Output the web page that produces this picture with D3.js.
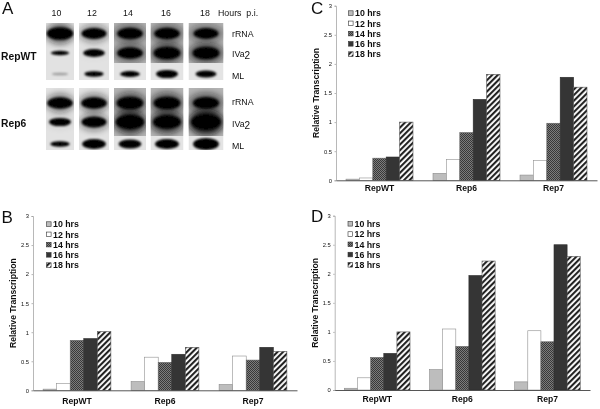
<!DOCTYPE html>
<html><head><meta charset="utf-8">
<script src="https://cdn.jsdelivr.net/npm/d3@7"></script>
<style>
html,body{margin:0;padding:0;background:#fff}
svg{display:block}
text{font-family:"Liberation Sans",Arial,sans-serif;fill:#111}
</style></head><body>
<script>
// ---- data ----
const categories = ["RepWT","Rep6","Rep7"];
const seriesNames = ["10 hrs","12 hrs","14 hrs","16 hrs","18 hrs"];
const panelBValues = [[0.02,0.12,0.86,0.89,1.01],[0.15,0.57,0.48,0.62,0.74],[0.10,0.59,0.52,0.74,0.67]];
const panelCValues = [[0.02,0.04,0.38,0.40,1.00],[0.12,0.36,0.82,1.39,1.82],[0.09,0.34,0.98,1.77,1.60]];
const panelDValues = [[0.03,0.21,0.56,0.63,1.00],[0.35,1.05,0.75,1.97,2.22],[0.14,1.02,0.83,2.50,2.30]];
const yTicks = [0,0.5,1,1.5,2,2.5,3];
const yTickLabels = ["0","0.5","1","1.5","2","2.5","3"];
const yLabel = "Relative Transcription";
const hours = ["10","12","14","16","18"];
const blotRows = ["rRNA","IVa2","ML"];
const blotGroups = ["RepWT","Rep6"];
const blotWT = [[.95,.80,.85,.85,.80],[.22,.52,.85,.95,.95],[.05,.30,.35,.55,.45]];
const blot6  = [[.85,.85,.95,.95,.90],[.55,.80,1.1,1.05,1.2],[.32,.70,.62,.72,.90]];

// ---- page ----
const W=600,H=409;
const svg=d3.select("body").append("svg").attr("width",W).attr("height",H);
const defs=svg.append("defs");
const soft=defs.append("filter").attr("id","soft").attr("x","-5%").attr("y","-5%").attr("width","110%").attr("height","110%");
soft.append("feGaussianBlur").attr("stdDeviation",0.3);
const blurB=defs.append("filter").attr("id","bandBlur").attr("x","-40%").attr("y","-80%").attr("width","180%").attr("height","260%");
blurB.append("feGaussianBlur").attr("stdDeviation",0.8);
const blurH=defs.append("filter").attr("id","haloBlur").attr("x","-60%").attr("y","-80%").attr("width","220%").attr("height","260%");
blurH.append("feGaussianBlur").attr("stdDeviation",3.2);

// hatch patterns
const p14=defs.append("pattern").attr("id","p14").attr("patternUnits","userSpaceOnUse").attr("width",2).attr("height",2);
p14.append("rect").attr("width",2).attr("height",2).attr("fill","#7c7c7c");
p14.append("rect").attr("width",1).attr("height",1).attr("fill","#383838");
p14.append("rect").attr("x",1).attr("y",1).attr("width",1).attr("height",1).attr("fill","#383838");
const p18=defs.append("pattern").attr("id","p18").attr("patternUnits","userSpaceOnUse").attr("width",4).attr("height",4).attr("patternTransform","rotate(45)");
p18.append("rect").attr("width",4).attr("height",4).attr("fill","#fff");
p18.append("rect").attr("width",2.1).attr("height",4).attr("fill","#222");
const fills=d3.scaleOrdinal().domain(seriesNames).range(["#bdbdbd","#ffffff","url(#p14)","#363636","url(#p18)"]);
const strokes=d3.scaleOrdinal().domain(seriesNames).range(["#8a8a8a","#8f8f8f","#666","#2a2a2a","#555"]);

const root=svg.append("g").attr("filter","url(#soft)");
root.append("rect").attr("width",W).attr("height",H).attr("fill","#fff");

function chart(cfg,values){
  const g=root.append("g");
  const y=d3.scaleLinear().domain([0,3]).range([cfg.y0,cfg.y3]);
  const x0=d3.scaleBand().domain(categories).range([cfg.xl,cfg.xr]).paddingInner(.23).paddingOuter(.115);
  const x1=d3.scaleBand().domain(seriesNames).range([0,x0.bandwidth()]);
  categories.forEach((c,i)=>{
    g.append("g").selectAll("rect").data(values[i]).join("rect")
      .attr("x",(d,j)=>x0(c)+x1(seriesNames[j]))
      .attr("y",d=>y(d)).attr("width",x1.bandwidth()).attr("height",d=>cfg.y0-y(d))
      .attr("fill",(d,j)=>fills(seriesNames[j]))
      .attr("stroke",(d,j)=>strokes(seriesNames[j])).attr("stroke-width",.6);
  });
  const ax=g.append("g").attr("transform",`translate(${cfg.xl},0)`)
    .call(d3.axisLeft(y).tickValues(yTicks).tickSize(1.5).tickFormat((d,i)=>yTickLabels[i]));
  ax.selectAll("path,line").attr("stroke","#999").attr("stroke-width",.7);
  ax.selectAll("text").attr("font-size",5.8).attr("fill","#444").attr("x",-4);
  const bx=g.append("g").attr("transform",`translate(0,${cfg.y0})`)
    .call(d3.axisBottom(x0).tickSize(0).tickPadding(cfg.labelPad));
  bx.select("path").attr("stroke","#444").attr("stroke-width",.9);
  bx.selectAll("text").attr("font-size",8.6).attr("font-weight","bold").attr("fill","#111");
  g.append("text").attr("transform",`translate(${cfg.ylabX},${(cfg.y0+cfg.y3)/2}) rotate(-90)`)
    .attr("text-anchor","middle").attr("font-size",8.6).attr("font-weight","bold").text(yLabel);
  g.append("text").attr("x",cfg.letterX).attr("y",cfg.letterY).attr("font-size",17).text(cfg.letter);
  const ly=d3.scalePoint().domain(seriesNames).range([cfg.legY,cfg.legY+41]);
  const leg=g.append("g");
  seriesNames.forEach(s=>{
    leg.append("rect").attr("x",cfg.legX).attr("y",ly(s)-2.5).attr("width",4.6).attr("height",4.6)
      .attr("fill",fills(s)).attr("stroke","#333").attr("stroke-width",.6);
    leg.append("text").attr("x",cfg.legX+6.5).attr("y",ly(s)+3).attr("font-size",8.8)
      .attr("font-weight","bold").text(s);
  });
}
chart({letter:"B",letterX:1.5,letterY:223,xl:33,xr:297,y0:390.3,y3:216,labelPad:8,ylabX:16,legX:46.5,legY:224.3},panelBValues);
chart({letter:"C",letterX:311,letterY:14,xl:336,xr:597,y0:180.3,y3:5.7,labelPad:5,ylabX:318.5,legX:348.5,legY:13.3},panelCValues);
chart({letter:"D",letterX:311,letterY:222,xl:334.7,xr:590,y0:390,y3:215.7,labelPad:6,ylabX:318,legX:348,legY:224},panelDValues);

// ---- panel A ----
const A=root.append("g");
A.append("text").attr("x",2).attr("y",13.5).attr("font-size",17).text("A");
const laneX=d3.scaleOrdinal().domain(hours).range([60,94,130,167,206]);
const laneHalf=d3.scaleOrdinal().domain(hours).range([14,15,16,16.5,17.5]);
const labelX=d3.scaleOrdinal().domain(hours).range([56.5,92,128,166,205]);
hours.forEach(h=>A.append("text").attr("x",labelX(h)).attr("y",15.5).attr("text-anchor","middle").attr("font-size",8.8).text(h));
A.append("text").attr("x",218).attr("y",15.5).attr("font-size",8.8).attr("xml:space","preserve").text("Hours  p.i.");
const bandRx=d3.scaleLinear().domain([0,1]).range([8,13.5]);
const bandRy=d3.scaleLinear().domain([0,1]).range([1,6.6]);
const haloOp=d3.scaleLinear().domain([.5,1.2]).range([0,.9]).clamp(true);

function blot(group,vals,rowY,top,bottom,split,labY){
  const gy=A.append("g");
  hours.forEach((h,i)=>{
    const cx=laneX(h),hw=laneHalf(h);
    const splitHere=i>=2;
    const segs=splitHere?[[top,split,[0,1]],[split,bottom,[2]]]:[[top,bottom,[0,1,2]]];
    segs.forEach((seg,k)=>{
      const id=`c${group}${h}${k}`;
      defs.append("clipPath").attr("id",id).append("rect").attr("x",cx-hw).attr("y",seg[0]).attr("width",hw*2).attr("height",seg[1]-seg[0]);
      const s=gy.append("g").attr("clip-path",`url(#${id})`);
      s.append("rect").attr("x",cx-hw).attr("y",seg[0]).attr("width",hw*2).attr("height",seg[1]-seg[0])
        .attr("fill",k===0&&splitHere?"#b4b4b4":(k===1?"#e4e4e4":"#e2e2e2"));
      seg[2].forEach(r=>{
        const v=vals[r][i],ry=rowY(blotRows[r]);
        if(r<2) s.append("ellipse").attr("cx",cx).attr("cy",ry).attr("rx",hw*1.0).attr("ry",bandRy(v)*1.7)
          .attr("fill","#111").attr("opacity",haloOp(v)).attr("filter","url(#haloBlur)");
        s.append("ellipse").attr("cx",cx).attr("cy",ry).attr("rx",bandRx(v)).attr("ry",bandRy(v))
          .attr("fill","#060606").attr("filter","url(#bandBlur)").attr("opacity",v<.15?.3:1);
      });
    });
  });
  blotRows.forEach(r=>{
    const t=A.append("text").attr("x",232).attr("y",labY(r)).attr("font-size",8.8);
    if(r==="IVa2"){ t.append("tspan").text("IVa"); t.append("tspan").attr("dy",2).attr("font-size",10).text("2"); }
    else t.text(r);
  });
  A.append("text").attr("x",1).attr("y",group==="RepWT"?59.5:126.5).attr("font-size",10.3).attr("font-weight","bold").text(group);
}
blot("RepWT",blotWT,d3.scaleOrdinal().domain(blotRows).range([33.5,53,74]),23,80,63,
     d3.scaleOrdinal().domain(blotRows).range([37,56.5,78.5]));
blot("Rep6",blot6,d3.scaleOrdinal().domain(blotRows).range([103,122,144]),88,150,136,
     d3.scaleOrdinal().domain(blotRows).range([105,127,148.5]));
</script>
</body></html>
